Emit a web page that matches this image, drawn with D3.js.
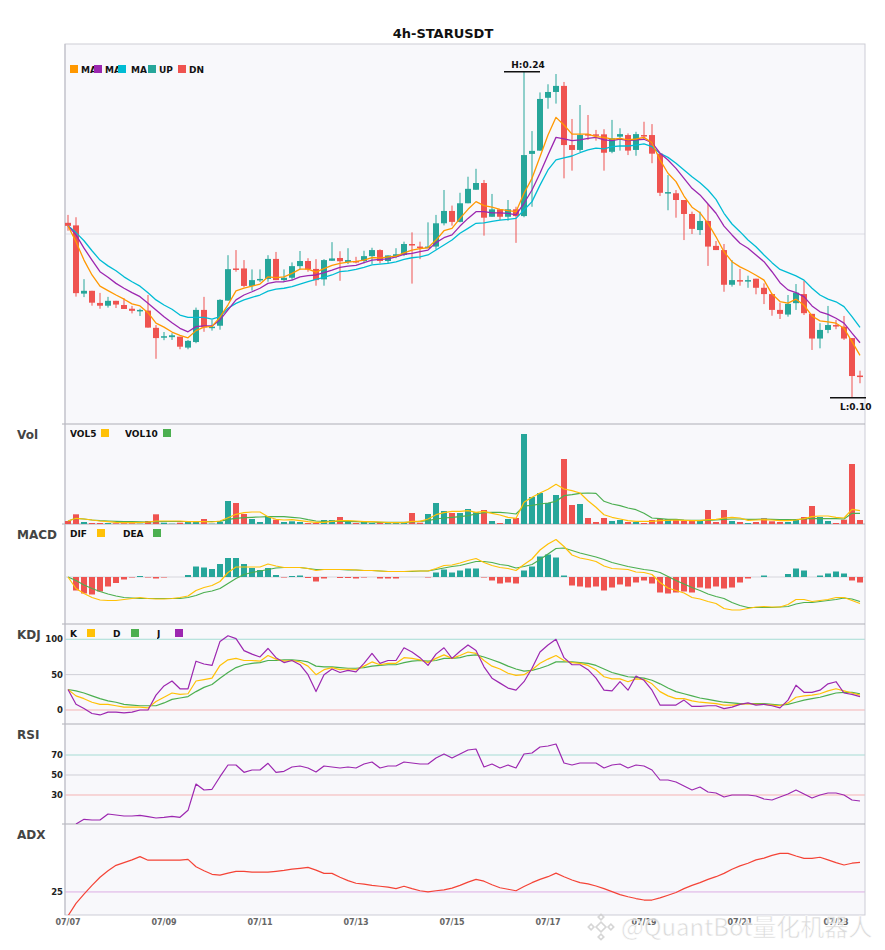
<!DOCTYPE html>
<html>
<head>
<meta charset="utf-8">
<script src="https://cdn.jsdelivr.net/npm/d3@7"></script>
<style>
  body { margin: 0; background: #fff; font-family: "DejaVu Sans", sans-serif; }
</style>
</head>
<body>
<div id="chart"></div>
<script>
// 4h candles, 07/07 00:00 .. 07/23 12:00
const open = [
  0.1751,0.1740,0.1447,0.1459,0.1407,0.1395,0.1416,0.1398,0.1382,0.1376,
  0.1374,0.1300,0.1262,0.1260,0.1262,0.1215,0.1239,0.1377,0.1304,0.1309,
  0.1417,0.1555,0.1555,0.1480,0.1508,0.1510,0.1596,0.1505,0.1515,0.1565,
  0.1587,0.1553,0.1508,0.1588,0.1600,0.1583,0.1587,0.1587,0.1608,0.1634,
  0.1587,0.1607,0.1613,0.1660,0.1649,0.1647,0.1649,0.1749,0.1802,0.1755,
  0.1835,0.1893,0.1922,0.1777,0.1809,0.1777,0.1809,0.1780,0.2047,0.2061,
  0.2288,0.2313,0.2339,0.2085,0.2064,0.2132,0.2131,0.2131,0.2056,0.2121,
  0.2128,0.2064,0.2128,0.2128,0.2048,0.1882,0.1878,0.1849,0.1789,0.1720,
  0.1759,0.1652,0.1634,0.1485,0.1505,0.1504,0.1511,0.1472,0.1445,0.1377,
  0.1357,0.1406,0.1445,0.1360,0.1254,0.1291,0.1312,0.1305,0.1256,0.1095];
const close = [
  0.1738,0.1449,0.1459,0.1408,0.1395,0.1416,0.1400,0.1381,0.1373,0.1377,
  0.1301,0.1256,0.1264,0.1268,0.1219,0.1244,0.1377,0.1302,0.1305,0.1420,
  0.1552,0.1554,0.1480,0.1505,0.1510,0.1596,0.1505,0.1515,0.1565,0.1587,
  0.1551,0.1505,0.1591,0.1598,0.1586,0.1591,0.1586,0.1608,0.1634,0.1587,
  0.1611,0.1616,0.1660,0.1659,0.1647,0.1649,0.1749,0.1802,0.1755,0.1835,
  0.1897,0.1922,0.1773,0.1809,0.1777,0.1809,0.1780,0.2042,0.2060,0.2283,
  0.2313,0.2339,0.2085,0.2064,0.2128,0.2131,0.2129,0.2052,0.2114,0.2132,
  0.2061,0.2132,0.2127,0.2048,0.1880,0.1883,0.1849,0.1789,0.1725,0.1759,
  0.1649,0.1634,0.1485,0.1505,0.1504,0.1505,0.1472,0.1445,0.1377,0.1360,
  0.1403,0.1451,0.1363,0.1254,0.1291,0.1312,0.1311,0.1254,0.1093,0.1093];
const high = [
  0.1785,0.1775,0.1509,0.1459,0.1450,0.1433,0.1416,0.1427,0.1394,0.1382,
  0.1441,0.1312,0.1282,0.1277,0.1262,0.1248,0.1387,0.1433,0.1334,0.1423,
  0.1612,0.1634,0.1591,0.1551,0.1551,0.1612,0.1626,0.1551,0.1581,0.1630,
  0.1599,0.1595,0.1595,0.1668,0.1629,0.1642,0.1605,0.1631,0.1644,0.1637,
  0.1611,0.1642,0.1670,0.1710,0.1670,0.1753,0.1785,0.1892,0.1825,0.1880,
  0.1949,0.1983,0.1935,0.1875,0.1809,0.1849,0.1820,0.2400,0.2145,0.2311,
  0.2346,0.2390,0.2356,0.2197,0.2257,0.2214,0.2150,0.2153,0.2193,0.2157,
  0.2135,0.2142,0.2185,0.2175,0.2048,0.1956,0.1892,0.1849,0.1799,0.1799,
  0.1832,0.1673,0.1660,0.1591,0.1553,0.1524,0.1511,0.1491,0.1445,0.1408,
  0.1441,0.1488,0.1502,0.1360,0.1320,0.1394,0.1334,0.1351,0.1256,0.1116];
const low = [
  0.1717,0.1434,0.1432,0.1395,0.1382,0.1387,0.1385,0.1381,0.1362,0.1351,
  0.1301,0.1167,0.1247,0.1248,0.1208,0.1208,0.1234,0.1283,0.1288,0.1292,
  0.1417,0.1541,0.1474,0.1460,0.1497,0.1498,0.1505,0.1497,0.1505,0.1551,
  0.1541,0.1481,0.1481,0.1587,0.1502,0.1574,0.1577,0.1577,0.1574,0.1577,
  0.1577,0.1599,0.1608,0.1490,0.1595,0.1642,0.1637,0.1740,0.1739,0.1753,
  0.1835,0.1893,0.1696,0.1777,0.1763,0.1760,0.1665,0.1775,0.1820,0.2061,
  0.2241,0.2263,0.1942,0.1975,0.2056,0.2107,0.2104,0.1975,0.2050,0.2061,
  0.2042,0.2039,0.2107,0.2007,0.1866,0.1805,0.1773,0.1677,0.1703,0.1699,
  0.1566,0.1634,0.1455,0.1477,0.1481,0.1472,0.1444,0.1402,0.1352,0.1338,
  0.1348,0.1377,0.1355,0.1205,0.1212,0.1277,0.1294,0.1248,0.1000,0.1062];

const ma5 = [
  0.1738,0.1670,0.1591,0.1527,0.1479,0.1460,0.1441,0.1423,0.1403,0.1394,
  0.1365,0.1320,0.1303,0.1282,0.1268,0.1257,0.1288,0.1303,0.1306,0.1346,
  0.1399,0.1459,0.1471,0.1479,0.1488,0.1519,0.1516,0.1519,0.1534,0.1552,
  0.1552,0.1539,0.1554,0.1568,0.1577,0.1582,0.1585,0.1591,0.1602,0.1599,
  0.1605,0.1608,0.1622,0.1634,0.1640,0.1644,0.1677,0.1717,0.1727,0.1770,
  0.1809,0.1842,0.1825,0.1818,0.1809,0.1803,0.1799,0.1878,0.1942,0.2035,
  0.2128,0.2204,0.2171,0.2132,0.2132,0.2132,0.2121,0.2118,0.2110,0.2114,
  0.2107,0.2111,0.2118,0.2095,0.2021,0.1964,0.1928,0.1866,0.1818,0.1794,
  0.1749,0.1691,0.1627,0.1584,0.1562,0.1545,0.1526,0.1505,0.1445,0.1413,
  0.1406,0.1423,0.1397,0.1351,0.1330,0.1326,0.1320,0.1298,0.1241,0.1182];
const ma10 = [
  0.1738,0.1699,0.1642,0.1591,0.1541,0.1517,0.1491,0.1470,0.1451,0.1434,
  0.1406,0.1377,0.1348,0.1322,0.1298,0.1283,0.1305,0.1308,0.1308,0.1334,
  0.1377,0.1420,0.1441,0.1455,0.1470,0.1491,0.1497,0.1498,0.1505,0.1519,
  0.1524,0.1527,0.1537,0.1548,0.1560,0.1565,0.1568,0.1580,0.1591,0.1594,
  0.1596,0.1605,0.1616,0.1620,0.1627,0.1634,0.1666,0.1687,0.1699,0.1737,
  0.1770,0.1799,0.1799,0.1794,0.1794,0.1792,0.1785,0.1835,0.1892,0.1964,
  0.2042,0.2118,0.2112,0.2104,0.2107,0.2114,0.2118,0.2107,0.2104,0.2110,
  0.2104,0.2107,0.2110,0.2095,0.2050,0.2021,0.1985,0.1942,0.1899,0.1871,
  0.1832,0.1792,0.1737,0.1699,0.1663,0.1642,0.1613,0.1584,0.1541,0.1494,
  0.1463,0.1451,0.1434,0.1394,0.1369,0.1358,0.1341,0.1320,0.1277,0.1236];
const ma20 = [
  0.1738,0.1709,0.1674,0.1631,0.1591,0.1566,0.1545,0.1519,0.1498,0.1479,
  0.1451,0.1420,0.1398,0.1380,0.1355,0.1345,0.1345,0.1345,0.1337,0.1348,
  0.1384,0.1405,0.1420,0.1431,0.1441,0.1458,0.1466,0.1470,0.1477,0.1488,
  0.1498,0.1508,0.1517,0.1527,0.1541,0.1545,0.1551,0.1560,0.1570,0.1574,
  0.1577,0.1583,0.1594,0.1601,0.1605,0.1613,0.1634,0.1656,0.1677,0.1706,
  0.1727,0.1749,0.1751,0.1757,0.1763,0.1766,0.1770,0.1806,0.1842,0.1913,
  0.1978,0.2021,0.2030,0.2038,0.2052,0.2064,0.2072,0.2069,0.2078,0.2081,
  0.2081,0.2085,0.2090,0.2078,0.2050,0.2032,0.2007,0.1978,0.1949,0.1923,
  0.1892,0.1852,0.1792,0.1746,0.1713,0.1677,0.1648,0.1613,0.1580,0.1551,
  0.1537,0.1523,0.1505,0.1470,0.1441,0.1423,0.1412,0.1391,0.1348,0.1302];

const vol = [
  30,97,20,10,10,10,7,7,7,3, 30,97,13,3,13,20,30,50,3,20,
  230,210,100,50,20,80,43,20,27,20, 10,10,40,40,70,30,10,30,10,20,
  10,10,13,110,13,100,210,130,110,110, 150,117,140,30,10,50,60,900,270,310,
  210,290,650,190,200,60,20,60,30,40, 20,20,10,40,50,50,50,30,30,30,
  140,20,140,30,20,10,20,57,27,20, 20,50,70,180,70,30,10,43,600,40];
const vol5 = [
  30,57,50,40,30,23,17,13,13,13, 20,30,30,30,30,23,23,23,20,30,
  63,97,113,120,120,73,47,40,43,33, 23,17,17,27,33,33,30,23,23,20,
  13,13,13,27,27,50,93,113,127,127, 133,117,127,107,90,67,57,217,267,310,
  347,397,350,333,310,233,167,93,67,50, 33,27,27,27,33,37,40,37,33,33,
  43,47,60,67,60,37,40,43,40,33, 33,40,53,73,80,80,67,60,147,133];
const vol10 = [
  30,57,50,40,33,30,27,25,23,22, 20,23,25,25,25,25,25,25,25,25,
  47,57,63,67,70,73,73,73,67,60, 43,30,27,27,27,27,23,20,20,17,
  17,17,17,20,27,33,50,60,67,73, 83,100,113,117,117,110,100,180,187,200,
  210,227,283,293,307,310,307,227,200,183, 160,143,107,60,53,47,47,40,37,37,
  37,40,47,50,50,47,47,50,47,43, 43,43,50,57,53,53,53,50,107,107];

const dif = [
  0,-0.0023,-0.0033,-0.0041,-0.0046,-0.0047,-0.0047,-0.0045,-0.0043,-0.0041,
  -0.0043,-0.0044,-0.0044,-0.0043,-0.0041,-0.0038,-0.0027,-0.0021,-0.0017,-0.0009,
  0.0009,0.0020,0.0020,0.0020,0.0020,0.0026,0.0022,0.0019,0.0019,0.0019,
  0.0017,0.0013,0.0015,0.0015,0.0015,0.0015,0.0014,0.0013,0.0013,0.0012,
  0.0011,0.0011,0.0011,0.0012,0.0012,0.0012,0.0017,0.0023,0.0024,0.0028,
  0.0033,0.0037,0.0029,0.0023,0.0019,0.0017,0.0013,0.0025,0.0036,0.0054,
  0.0066,0.0075,0.0061,0.0044,0.0038,0.0035,0.0031,0.0022,0.0017,0.0016,
  0.0015,0.0010,0.0009,0.0005,-0.0011,-0.0022,-0.0027,-0.0032,-0.0041,-0.0044,
  -0.0049,-0.0053,-0.0063,-0.0066,-0.0066,-0.0063,-0.0060,-0.0059,-0.0060,-0.0060,
  -0.0055,-0.0045,-0.0045,-0.0049,-0.0047,-0.0045,-0.0041,-0.0041,-0.0047,-0.0053];
const dea = [
  0,-0.0007,-0.0016,-0.0023,-0.0029,-0.0034,-0.0038,-0.0041,-0.0042,-0.0043,
  -0.0043,-0.0043,-0.0043,-0.0043,-0.0043,-0.0041,-0.0037,-0.0031,-0.0028,-0.0023,
  -0.0013,-0.0003,0.0005,0.0009,0.0012,0.0015,0.0018,0.0019,0.0019,0.0019,
  0.0017,0.0015,0.0015,0.0015,0.0015,0.0014,0.0014,0.0013,0.0013,0.0012,
  0.0011,0.0011,0.0011,0.0011,0.0012,0.0012,0.0015,0.0018,0.0021,0.0023,
  0.0027,0.0031,0.0031,0.0029,0.0025,0.0023,0.0018,0.0021,0.0025,0.0035,
  0.0046,0.0057,0.0058,0.0053,0.0048,0.0044,0.0040,0.0035,0.0029,0.0025,
  0.0021,0.0018,0.0015,0.0013,0.0009,0.0001,-0.0007,-0.0014,-0.0021,-0.0027,
  -0.0034,-0.0039,-0.0043,-0.0051,-0.0057,-0.0061,-0.0061,-0.0061,-0.0061,-0.0060,
  -0.0059,-0.0054,-0.0051,-0.0051,-0.0049,-0.0047,-0.0045,-0.0042,-0.0044,-0.0049];
const hist = [
  0,-0.0027,-0.0033,-0.0035,-0.0029,-0.0019,-0.0012,-0.0005,-0.0001,0.0002,
  -0.0001,-0.0003,-0.0001,0,0,0.0004,0.0021,0.0019,0.0016,0.0026,
  0.0038,0.0038,0.0026,0.0018,0.0014,0.0018,0.0004,-0.0001,0.0002,0.0003,
  -0.0002,-0.0009,-0.0003,0,-0.0002,-0.0002,-0.0003,-0.0001,0,-0.0003,
  -0.0003,-0.0003,0,0,0,-0.0001,0.0009,0.0015,0.0009,0.0013,
  0.0017,0.0017,-0.0001,-0.0007,-0.0013,-0.0011,-0.0013,0.0013,0.0021,0.0041,
  0.0045,0.0039,0.0003,-0.0017,-0.0019,-0.0021,-0.0019,-0.0027,-0.0021,-0.0015,
  -0.0019,-0.0011,-0.0007,-0.0013,-0.0031,-0.0033,-0.0031,-0.0029,-0.0031,-0.0021,
  -0.0023,-0.0019,-0.0023,-0.0021,-0.0011,-0.0003,0,0.0003,0,0,
  0.0006,0.0017,0.0013,0,0.0003,0.0007,0.0011,0.0007,-0.0007,-0.0011];

const kK = [
  29,20,16,11,8,8,6,4,4,4, 3,12,18,24,22,23,41,43,45,63,
  71,73,70,70,69,77,72,69,70,68, 62,50,57,60,57,58,57,62,68,64,
  66,66,74,73,71,67,73,78,73,77, 82,80,70,62,58,52,49,50,57,66,
  72,77,70,67,66,63,57,47,44,44, 40,44,43,37,26,20,16,16,13,11,
  10,9,7,7,8,9,8,8,7,6, 10,18,20,21,23,27,30,27,24,21];
const kD = [
  29,27,24,20,16,13,11,8,7,6, 6,6,10,15,17,19,26,32,36,45,
  53,60,64,66,67,70,70,71,71,70, 68,62,61,61,60,59,59,60,62,63,
  64,64,67,69,70,69,70,73,73,74, 77,78,75,71,67,62,58,55,56,59,
  63,68,68,68,67,66,63,58,53,50, 47,46,45,42,37,31,26,23,20,17,
  15,13,11,10,9,9,9,9,8,7, 8,11,14,16,18,21,24,25,25,23];
const kJ = [
  29,8,2,-5,-7,-3,-3,-4,-3,0, 0,21,34,41,30,30,69,65,63,97,
  105,101,84,79,75,87,74,67,70,64, 50,26,50,58,53,56,54,66,80,66,
  70,70,88,82,74,63,79,88,73,83, 92,84,61,45,38,31,28,40,59,82,
  92,100,74,64,64,57,45,28,27,40, 28,48,42,28,7,7,7,14,5,5,
  6,6,2,4,8,10,7,8,6,3, 14,35,25,25,28,37,40,24,22,19];

const rsi = [
  null,1,5.7,5,5,11,10,9,9,9.7, 8.3,7,7.7,8.7,7.7,14.7,41,35,35.7,48.3,
  60,60,52.7,55,55,61.7,52.7,53.7,58,59, 57,53,59,58,57,58,57,61,63,57,
  59,59,63,62,61,61,67,71,67,71, 75,76,58,61,57,60,57,71,72,78,
  79,81,62,60,62,62,62,57,60,61, 57,60,59,55,45,45,43,39,35,38,
  33,32,28,30,30,30,29,26,25,28, 31,35,31,27,30,32,32,30,25,24];

const adx = [
  17,21.2,24.3,27.2,29.9,32.1,33.9,34.8,35.7,36.8,
  35.6,35.6,35.6,35.6,35.6,35.9,33.4,32.1,30.9,30.6,
  31.3,31.9,31.9,31.6,31.6,31.6,31.9,32.2,32.6,32.9,
  33.2,32.3,31.2,31.2,29.9,28.8,27.9,27.6,27.2,26.9,
  26.6,26.1,26.9,26.1,25.4,25,25.4,25.7,26.3,27.2,
  28.3,29.2,28.6,27.4,26.4,25.9,25.4,26.8,28.1,29.2,
  30.1,31.3,30.1,29,28.1,27.7,27,26.1,25.1,24.1,
  23.4,22.8,22.3,22.3,23,23.9,24.8,26.1,27.2,28.1,
  29.2,30.1,31.2,32.6,33.7,34.6,35.7,36.3,37.2,37.9,
  37.9,37,36.2,36.2,36.6,35.7,34.8,34,34.6,34.9];

const dateLabels = ['07/07','07/09','07/11','07/13','07/15','07/17','07/19','07/21','07/23'];
const dateIndex = [0,12,24,36,48,60,72,84,96];

const UP = '#26a69a', DN = '#ef5350';
const C_MA5 = '#ff9800', C_MA10 = '#9c27b0', C_MA20 = '#00bcd4';
const C_Y = '#ffc107', C_G = '#4caf50', C_P = '#9c27b0';

const W = 885, H = 950, L = 65, R = 865;
const panels = [
  {id: 'main', top: 44, bottom: 424},
  {id: 'vol', top: 424, bottom: 524, title: 'Vol'},
  {id: 'macd', top: 524, bottom: 624, title: 'MACD'},
  {id: 'kdj', top: 624, bottom: 724, title: 'KDJ'},
  {id: 'rsi', top: 724, bottom: 824, title: 'RSI'},
  {id: 'adx', top: 824, bottom: 915, title: 'ADX'}
];

const svg = d3.select('#chart').append('svg')
  .attr('width', W).attr('height', H)
  .style('font-family', '"DejaVu Sans", sans-serif');

const n = open.length;
const x = d3.scaleBand().domain(d3.range(n)).range([64, 864])
  .paddingInner(0.25).paddingOuter(0.125);
const cx = i => x(i) + x.bandwidth() / 2;

const yP = d3.scaleLinear().domain([0.0887, 0.2519]).range([424, 44]);
const yV = d3.scaleLinear().domain([0, 1000]).range([524, 424]);
const yM = d3.scaleLinear().domain([-0.0094, 0.0106]).range([624, 524]);
const yK = d3.scaleLinear().domain([-19.8, 121.6]).range([724, 624]);
const yR = d3.scaleLinear().domain([1, 101]).range([824, 724]);
const yA = d3.scaleLinear().domain([17.3, 47.7]).range([915, 824]);

// title
svg.append('text').attr('x', 443).attr('y', 38).attr('text-anchor', 'middle')
  .attr('font-size', 13).attr('font-weight', 'bold').attr('fill', '#111')
  .text('4h-STARUSDT');

// panel backgrounds + clip paths
const defs = svg.append('defs');
panels.forEach(p => {
  svg.append('rect').attr('x', L).attr('y', p.top)
    .attr('width', R - L).attr('height', p.bottom - p.top)
    .attr('fill', '#f8f8fb');
  defs.append('clipPath').attr('id', 'clip-' + p.id)
    .append('rect').attr('x', L).attr('y', p.top)
    .attr('width', R - L).attr('height', p.bottom - p.top);
  if (p.title) {
    svg.append('text').attr('x', 17).attr('y', p.top + 15)
      .attr('font-size', 12).attr('font-weight', 'bold').attr('fill', '#444')
      .text(p.title);
  }
});

// reference lines
const ref = (scale, v, color) => svg.append('line')
  .attr('x1', L).attr('x2', R).attr('y1', scale(v)).attr('y2', scale(v))
  .attr('stroke', color).attr('stroke-width', 1);
svg.append('line').attr('x1', L).attr('x2', R).attr('y1', 234).attr('y2', 234)
  .attr('stroke', '#dcdce4');
ref(yK, 100, '#a6dcd4'); ref(yK, 50, '#cfcfd6'); ref(yK, 0, '#f5b3b3');
ref(yR, 70, '#a6dcd4'); ref(yR, 50, '#cfcfd6'); ref(yR, 30, '#f5b3b3');
ref(yA, 25, '#dcaee4');

// y labels
const ylab = (scale, v, t) => svg.append('text').attr('x', 63).attr('y', scale(v) + 3)
  .attr('text-anchor', 'end').attr('font-size', 8.5).attr('font-weight', 'bold')
  .attr('fill', '#222').text(t);
[100, 50, 0].forEach(v => ylab(yK, v, v));
[70, 50, 30].forEach(v => ylab(yR, v, v));
ylab(yA, 25, 25);

// frame
svg.append('rect').attr('x', L).attr('y', 44).attr('width', R - L).attr('height', 915 - 44)
  .attr('fill', 'none').attr('stroke', '#cdcdd6');
panels.slice(1).forEach(p => {
  svg.append('line').attr('x1', 62).attr('x2', R).attr('y1', p.top).attr('y2', p.top)
    .attr('stroke', '#aeaeb6');
});
svg.append('line').attr('x1', L).attr('x2', L).attr('y1', 44).attr('y2', 915)
  .attr('stroke', '#bdbdc6');

// ---- main: candles
const gMain = svg.append('g');
const isUp = i => close[i] >= open[i];
const idx = d3.range(n);
gMain.selectAll('line.wick').data(idx).enter().append('line')
  .attr('x1', cx).attr('x2', cx)
  .attr('y1', i => yP(high[i])).attr('y2', i => yP(low[i]))
  .attr('stroke', i => isUp(i) ? UP : DN).attr('stroke-width', 1);
gMain.selectAll('rect.body').data(idx).enter().append('rect')
  .attr('x', i => x(i)).attr('width', x.bandwidth())
  .attr('y', i => yP(Math.max(open[i], close[i])))
  .attr('height', i => Math.max(1.5, Math.abs(yP(open[i]) - yP(close[i]))))
  .attr('fill', i => isUp(i) ? UP : DN);

const drawLine = (g, data, scale, color, clip, w = 1.2) => g.append('path')
  .datum(data)
  .attr('clip-path', clip ? 'url(#clip-' + clip + ')' : null)
  .attr('fill', 'none').attr('stroke', color).attr('stroke-width', w)
  .attr('stroke-linejoin', 'round')
  .attr('d', d3.line().defined(d => d !== null).x((d, i) => cx(i)).y(d => scale(d)));

drawLine(gMain, ma20, yP, C_MA20, 'main', 1.3);
drawLine(gMain, ma10, yP, C_MA10, 'main', 1.3);
drawLine(gMain, ma5, yP, C_MA5, 'main', 1.3);

// high / low markers
const hiI = d3.maxIndex(high), loI = d3.minIndex(low);
gMain.append('line').attr('x1', cx(hiI) - 20).attr('x2', cx(hiI) + 16)
  .attr('y1', yP(high[hiI])).attr('y2', yP(high[hiI])).attr('stroke', '#111').attr('stroke-width', 1.5);
gMain.append('text').attr('x', cx(hiI) + 4).attr('y', yP(high[hiI]) - 4)
  .attr('text-anchor', 'middle').attr('font-size', 9).attr('font-weight', 'bold').attr('fill', '#111')
  .text('H:' + high[hiI].toFixed(2));
gMain.append('line').attr('x1', cx(loI) - 22).attr('x2', cx(loI) + 14)
  .attr('y1', yP(low[loI])).attr('y2', yP(low[loI])).attr('stroke', '#111').attr('stroke-width', 1.5);
gMain.append('text').attr('x', cx(loI) - 12).attr('y', yP(low[loI]) + 12)
  .attr('font-size', 9).attr('font-weight', 'bold').attr('fill', '#111')
  .text('L:' + low[loI].toFixed(2));

// legend helper: items clipped to their slot width
function legend(items, y) {
  items.forEach(it => {
    const s = svg.append('svg').attr('x', it.x).attr('y', y - 9)
      .attr('width', it.w).attr('height', 14).attr('overflow', 'hidden');
    if (it.swatchFirst) {
      s.append('rect').attr('x', 0).attr('y', 1).attr('width', 8).attr('height', 8).attr('fill', it.color);
      s.append('text').attr('x', it.tx || 11).attr('y', 9).attr('font-size', 9).attr('font-weight', 'bold')
        .attr('fill', '#111').text(it.label);
    } else {
      s.append('text').attr('x', 0).attr('y', 9).attr('font-size', 9).attr('font-weight', 'bold')
        .attr('fill', '#111').text(it.label);
      s.append('rect').attr('x', it.sw).attr('y', 1).attr('width', 8).attr('height', 8).attr('fill', it.color);
    }
  });
}
legend([
  {x: 70, w: 24, label: 'MA5', color: C_MA5, swatchFirst: true},
  {x: 94, w: 24, label: 'MA10', color: C_MA10, swatchFirst: true},
  {x: 118, w: 29, label: 'MA20', color: C_MA20, swatchFirst: true, tx: 13},
  {x: 148, w: 30, label: 'UP', color: UP, swatchFirst: true},
  {x: 178, w: 30, label: 'DN', color: DN, swatchFirst: true}
], 73);
legend([
  {x: 70, w: 50, label: 'VOL5', color: C_Y, sw: 31},
  {x: 125, w: 50, label: 'VOL10', color: C_G, sw: 38}
], 437);
legend([
  {x: 70, w: 50, label: 'DIF', color: C_Y, sw: 27},
  {x: 123, w: 50, label: 'DEA', color: C_G, sw: 30}
], 537);
legend([
  {x: 70, w: 40, label: 'K', color: C_Y, sw: 17},
  {x: 113, w: 40, label: 'D', color: C_G, sw: 18},
  {x: 157, w: 40, label: 'J', color: C_P, sw: 18}
], 637);

// ---- volume
const gVol = svg.append('g');
gVol.selectAll('rect').data(idx).enter().append('rect')
  .attr('x', i => x(i)).attr('width', x.bandwidth())
  .attr('y', i => yV(vol[i])).attr('height', i => yV(0) - yV(vol[i]))
  .attr('fill', i => isUp(i) ? UP : DN);
drawLine(gVol, vol10, yV, C_G, 'vol');
drawLine(gVol, vol5, yV, C_Y, 'vol');

// ---- MACD
const gM = svg.append('g');
gM.append('line').attr('x1', L).attr('x2', R).attr('y1', yM(0)).attr('y2', yM(0))
  .attr('stroke', '#d6d6dc');
gM.selectAll('rect').data(idx.filter(i => hist[i] !== 0)).enter().append('rect')
  .attr('x', i => x(i)).attr('width', x.bandwidth())
  .attr('y', i => Math.min(yM(hist[i]), yM(0)))
  .attr('height', i => Math.abs(yM(hist[i]) - yM(0)))
  .attr('fill', i => hist[i] > 0 ? UP : DN);
drawLine(gM, dea, yM, C_G, 'macd');
drawLine(gM, dif, yM, C_Y, 'macd');

// ---- KDJ / RSI / ADX
const gK = svg.append('g');
drawLine(gK, kD, yK, C_G, 'kdj');
drawLine(gK, kK, yK, C_Y, 'kdj');
drawLine(gK, kJ, yK, C_P, 'kdj');
drawLine(svg.append('g'), rsi, yR, C_P, 'rsi');
drawLine(svg.append('g'), adx, yA, '#f44336', 'adx');

// x labels
svg.append('g').selectAll('text').data(dateIndex).enter().append('text')
  .attr('x', i => cx(i)).attr('y', 925).attr('text-anchor', 'middle')
  .attr('font-size', 8).attr('font-weight', 'bold').attr('fill', '#666')
  .text((d, k) => dateLabels[k]);

// watermark (sits over the last date labels, as in the source image)
const wm = svg.append('g').attr('opacity', 0.85);
const logo = wm.append('g').attr('transform', 'translate(601,927) rotate(45)')
  .attr('fill', 'none').attr('stroke', '#cfcfcf').attr('stroke-width', 1.6);
logo.append('rect').attr('x', -3.5).attr('y', -3.5).attr('width', 7).attr('height', 7);
[[-9, -9], [5, -9], [-9, 5], [5, 5]].forEach(([a, b]) =>
  logo.append('rect').attr('x', a).attr('y', b).attr('width', 4).attr('height', 4));
wm.append('text').attr('x', 621).attr('y', 936)
  .attr('font-family', '"Noto Sans CJK SC", "Noto Sans", sans-serif')
  .attr('font-size', 24).attr('fill', '#d4d4d4')
  .attr('stroke', '#fff').attr('stroke-width', 0.6)
  .text('@QuantBot量化机器人');
</script>
</body>
</html>
